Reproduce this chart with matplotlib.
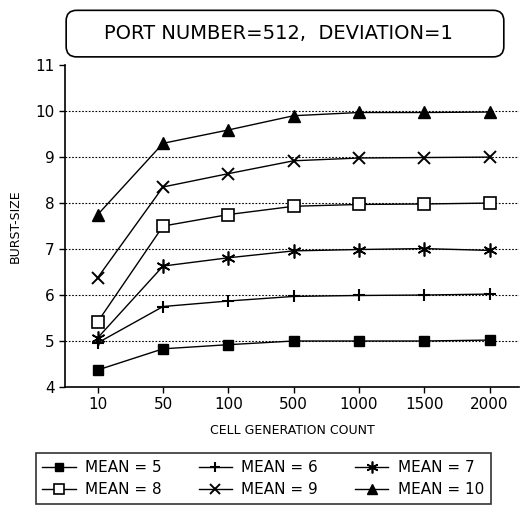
import matplotlib
matplotlib.use("Agg")
import matplotlib.pyplot as plt
from matplotlib.patches import FancyBboxPatch

counts = ["10", "50", "100", "500", "1000", "1500", "2000"]
mean5 = [4.37, 4.83, 4.92, 5.0, 5.0, 5.0, 5.02]
mean6 = [4.96, 5.75, 5.87, 5.97, 5.99, 6.0, 6.02]
mean7 = [5.07, 6.63, 6.81, 6.96, 6.99, 7.01, 6.97]
mean8 = [5.42, 7.5, 7.75, 7.93, 7.97, 7.98, 8.0]
mean9 = [6.38, 8.35, 8.64, 8.92, 8.98, 8.99, 9.0]
mean10 = [7.75, 9.3, 9.59, 9.9, 9.97, 9.97, 9.98]

series = [
    ("MEAN = 5", mean5, dict(marker="s", markersize=7.5, markerfacecolor="black")),
    ("MEAN = 6", mean6, dict(marker="+", markersize=9, markeredgewidth=1.5)),
    ("MEAN = 7", mean7, dict(marker=(6, 2, 0), markersize=10, markeredgewidth=1.2)),
    ("MEAN = 8", mean8, dict(marker="s", markersize=8, markerfacecolor="white", markeredgewidth=1.2)),
    ("MEAN = 9", mean9, dict(marker="x", markersize=9, markeredgewidth=1.4)),
    ("MEAN = 10", mean10, dict(marker="^", markersize=9, markerfacecolor="black")),
]

plt.rcParams["font.family"] = "DejaVu Sans"
fig = plt.figure(figsize=(5.21, 5.17), dpi=100)
ax = fig.add_axes([0.125, 0.2515, 0.871, 0.6225])

x = list(range(len(counts)))
handles = []
for label, vals, style in series:
    h, = ax.plot(x, vals, color="black", linewidth=1.0, markeredgecolor="black",
                 label=label, **style)
    handles.append(h)

for yv in range(5, 11):
    ax.axhline(yv, color="black", linestyle=(0, (1.5, 1.5)), linewidth=0.8, zorder=0)

ax.set_xlim(-0.5, 6.45)
ax.set_ylim(4, 11)
ax.set_xticks(x)
ax.set_xticklabels(counts)
ax.set_yticks(range(4, 12))
ax.tick_params(axis="both", labelsize=11, length=4, width=1, direction="out", colors="black")
ax.spines["top"].set_visible(False)
ax.spines["right"].set_visible(False)
ax.spines["left"].set_linewidth(1.2)
ax.spines["bottom"].set_linewidth(1.2)

ax.set_xlabel("CELL GENERATION COUNT", fontsize=9, labelpad=8)
ax.set_ylabel("BURST-SIZE", fontsize=9, labelpad=10)

# title box
box = FancyBboxPatch((0.127, 0.89), 0.84, 0.09, boxstyle="round,pad=0,rounding_size=0.02",
                     transform=fig.transFigure, facecolor="white", edgecolor="black",
                     linewidth=1.2)
fig.patches.append(box)
fig.text(0.535, 0.935, "PORT NUMBER=512,  DEVIATION=1", fontsize=14, ha="center", va="center")

order = [0, 3, 1, 4, 2, 5]
leg = fig.legend([handles[i] for i in order], [handles[i].get_label() for i in order],
                 ncol=3, loc="center", bbox_to_anchor=(0.505, 0.074), fontsize=11,
                 frameon=True, fancybox=False, edgecolor="black", handlelength=2.2,
                 columnspacing=2.4, handletextpad=0.6, borderpad=0.45, labelspacing=0.45,
                 markerscale=0.85)
leg.get_frame().set_linewidth(1.2)

fig.savefig("out.png", dpi=100)
